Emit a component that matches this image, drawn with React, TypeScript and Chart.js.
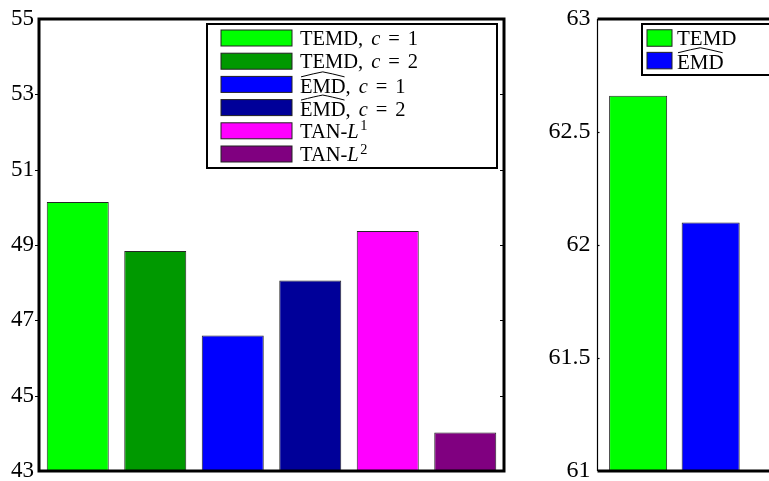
import React, { useEffect, useRef } from 'react';
import { Chart, registerables } from 'chart.js';

Chart.register(...registerables);

const FONT = '"Liberation Serif", "Times New Roman", serif';

// ---- Left panel data ----
const leftCategories = ['TEMD, c = 1', 'TEMD, c = 2', 'EMD^, c = 1', 'EMD^, c = 2', 'TAN-L1', 'TAN-L2'];
const leftValues = [50.14, 48.84, 46.6, 48.06, 49.37, 44.02];
const leftColors = ['#00ff00', '#009900', '#0000ff', '#000099', '#ff00ff', '#800080'];
const leftTicks = [43, 45, 47, 49, 51, 53, 55];

// ---- Right panel data (cut off at the right edge) ----
const rightCategories = ['TEMD', 'EMD^'];
const rightPositions = [1, 2];
const rightValues = [62.66, 62.1];
const rightColors = ['#00ff00', '#0000ff'];
const rightTicks = [61, 61.5, 62, 62.5, 63];

type Seg = { t: string; it?: boolean; sup?: boolean; hat?: boolean; dx?: number };

const leftLegend: Seg[][] = [
  [{ t: 'TEMD,' }, { t: 'c', it: true, dx: 8 }, { t: '=', dx: 8 }, { t: '1', dx: 8 }],
  [{ t: 'TEMD,' }, { t: 'c', it: true, dx: 8 }, { t: '=', dx: 8 }, { t: '2', dx: 8 }],
  [{ t: 'EMD', hat: true }, { t: ',' }, { t: 'c', it: true, dx: 8 }, { t: '=', dx: 8 }, { t: '1', dx: 8 }],
  [{ t: 'EMD', hat: true }, { t: ',' }, { t: 'c', it: true, dx: 8 }, { t: '=', dx: 8 }, { t: '2', dx: 8 }],
  [{ t: 'TAN-' }, { t: 'L', it: true }, { t: '1', sup: true, dx: 1.5 }],
  [{ t: 'TAN-' }, { t: 'L', it: true }, { t: '2', sup: true, dx: 1.5 }],
];
const rightLegend: Seg[][] = [[{ t: 'TEMD' }], [{ t: 'EMD', hat: true }]];

function drawRich(ctx: CanvasRenderingContext2D, segs: Seg[], x: number, y: number, size: number) {
  let cx = x;
  ctx.textAlign = 'left';
  ctx.textBaseline = 'alphabetic';
  ctx.fillStyle = '#000';
  for (const s of segs) {
    cx += s.dx || 0;
    const fs = s.sup ? size * 0.7 : size;
    ctx.font = `${s.it ? 'italic ' : ''}${fs}px ${FONT}`;
    const yy = s.sup ? y - size * 0.36 : y;
    ctx.fillText(s.t, cx, yy);
    const w = ctx.measureText(s.t).width;
    if (s.hat) {
      const cap = size * 0.66;
      ctx.save();
      ctx.strokeStyle = '#000';
      ctx.lineWidth = 1;
      ctx.beginPath();
      ctx.moveTo(cx + 1, y - cap - 2.5);
      ctx.quadraticCurveTo(cx + w * 0.32, y - cap - 6, cx + w / 2, y - cap - 7.5);
      ctx.quadraticCurveTo(cx + w * 0.68, y - cap - 6, cx + w - 1, y - cap - 2.5);
      ctx.stroke();
      ctx.restore();
    }
    cx += w;
  }
}

type LegendCfg = {
  items: Seg[][];
  colors: string[];
  offX: number; // from chart-area left
  offY: number; // from chart-area top
  boxW: number;
  boxH: number;
  swX: number;
  swW: number;
  swH: number;
  textX: number;
  rowStart: number;
  rowPitch: number;
  size: number;
};

function makePlugin(legend: LegendCfg, ticks: number[], full: boolean) {
  return {
    id: 'frameLegend',
    afterDatasetsDraw(chart: any) {
      const { ctx, chartArea: a } = chart;
      const ys = chart.scales.y;
      ctx.save();
      ctx.strokeStyle = '#000';
      // tick marks
      ctx.lineWidth = 1.2;
      ticks.forEach((v, i) => {
        if (i === 0 || i === ticks.length - 1) return;
        const y = Math.round(ys.getPixelForValue(v)) + 0.5;
        ctx.beginPath();
        if (full) {
          ctx.moveTo(a.left - 4, y);
          ctx.lineTo(a.left, y);
          ctx.moveTo(a.right - 4, y);
          ctx.lineTo(a.right, y);
        } else {
          ctx.moveTo(a.left, y);
          ctx.lineTo(a.left + 2, y);
        }
        ctx.stroke();
      });
      // frame
      if (full) {
        ctx.lineWidth = 3;
        ctx.strokeRect(a.left, a.top, a.right - a.left, a.bottom - a.top);
      } else {
        ctx.lineWidth = 3;
        ctx.beginPath();
        ctx.moveTo(a.left, a.top);
        ctx.lineTo(a.right, a.top);
        ctx.moveTo(a.left, a.bottom);
        ctx.lineTo(a.right, a.bottom);
        ctx.stroke();
        ctx.lineWidth = 1.2;
        ctx.beginPath();
        ctx.moveTo(a.left, a.top);
        ctx.lineTo(a.left, a.bottom);
        ctx.stroke();
      }
      // legend
      const bx = a.left + legend.offX;
      const by = a.top + legend.offY;
      ctx.fillStyle = '#fff';
      ctx.fillRect(bx, by, legend.boxW, legend.boxH);
      ctx.lineWidth = 2;
      ctx.strokeStyle = '#000';
      ctx.strokeRect(bx, by, legend.boxW, legend.boxH);
      legend.items.forEach((segs, i) => {
        const cy = by + legend.rowStart + i * legend.rowPitch;
        ctx.fillStyle = legend.colors[i];
        ctx.fillRect(bx + legend.swX, cy - legend.swH / 2, legend.swW, legend.swH);
        ctx.lineWidth = 1;
        ctx.strokeStyle = '#222';
        ctx.strokeRect(bx + legend.swX, cy - legend.swH / 2, legend.swW, legend.swH);
        const hasHat = segs.some((s) => s.hat);
        drawRich(ctx, segs, bx + legend.textX, cy + 7 + (hasHat ? 1.5 : 0), legend.size);
      });
      ctx.restore();
    },
  };
}

const tickFmt = (v: any) => String(v);

export default function App() {
  const leftRef = useRef<HTMLCanvasElement>(null);
  const rightRef = useRef<HTMLCanvasElement>(null);

  useEffect(() => {
    document.body.style.margin = '0';
    const left = new Chart(leftRef.current as HTMLCanvasElement, {
      type: 'bar',
      data: {
        labels: leftCategories,
        datasets: [
          {
            data: leftValues,
            backgroundColor: leftColors,
            borderColor: 'rgba(0,0,0,0.85)',
            borderWidth: 1,
            barPercentage: 0.8,
            categoryPercentage: 1,
          },
        ],
      },
      options: {
        animation: false,
        responsive: false,
        events: [],
        layout: { padding: { left: 0, top: 49, right: 16, bottom: 40 } },
        plugins: { legend: { display: false }, tooltip: { enabled: false } },
        scales: {
          x: { display: false, offset: true },
          y: {
            min: 43,
            max: 55,
            afterBuildTicks: (s: any) => {
              s.ticks = leftTicks.map((v) => ({ value: v }));
            },
            afterFit: (s: any) => {
              s.width = 39;
            },
            grid: { display: false, drawTicks: false },
            border: { display: false },
            ticks: { font: { family: FONT, size: 23 }, color: '#000', padding: 5, callback: tickFmt },
          },
        },
      },
      plugins: [
        makePlugin(
          {
            items: leftLegend,
            colors: leftColors,
            offX: 168,
            offY: 5,
            boxW: 290,
            boxH: 144,
            swX: 14,
            swW: 71,
            swH: 16,
            textX: 93,
            rowStart: 14,
            rowPitch: 23.2,
            size: 20.5,
          },
          leftTicks,
          true
        ),
      ],
    } as any);

    const right = new Chart(rightRef.current as HTMLCanvasElement, {
      type: 'bar',
      data: {
        labels: rightCategories,
        datasets: [
          {
            data: rightPositions.map((x, i) => ({ x, y: rightValues[i] })),
            backgroundColor: rightColors,
            borderColor: 'rgba(0,0,0,0.85)',
            borderWidth: 1,
            barPercentage: 0.8,
            categoryPercentage: 1,
          },
        ],
      },
      options: {
        animation: false,
        responsive: false,
        events: [],
        layout: { padding: { left: 0, top: 49, right: 0, bottom: 40 } },
        plugins: { legend: { display: false }, tooltip: { enabled: false } },
        scales: {
          x: {
            type: 'linear',
            display: false,
            offset: false,
            min: 0.44,
            max: 3.507,
            afterBuildTicks: (s: any) => {
              s.ticks = rightPositions.map((v) => ({ value: v }));
            },
          },
          y: {
            min: 61,
            max: 63,
            afterBuildTicks: (s: any) => {
              s.ticks = rightTicks.map((v) => ({ value: v }));
            },
            afterFit: (s: any) => {
              s.width = 77.5;
            },
            grid: { display: false, drawTicks: false },
            border: { display: false },
            ticks: { font: { family: FONT, size: 24 }, color: '#000', padding: 7, callback: tickFmt },
          },
        },
      },
      plugins: [
        makePlugin(
          {
            items: rightLegend,
            colors: rightColors,
            offX: 44.5,
            offY: 5,
            boxW: 200,
            boxH: 51,
            swX: 5,
            swW: 25,
            swH: 16.5,
            textX: 35,
            rowStart: 14,
            rowPitch: 22.6,
            size: 21,
          },
          rightTicks,
          false
        ),
      ],
    } as any);

    return () => {
      left.destroy();
      right.destroy();
    };
  }, []);

  return (
    <div
      style={{
        position: 'fixed',
        left: 0,
        top: 0,
        width: 769,
        height: 481,
        overflow: 'hidden',
        background: '#fff',
      }}
    >
      <canvas
        ref={leftRef}
        width={520}
        height={541}
        style={{ position: 'absolute', left: 0, top: -30, width: 520, height: 541 }}
      />
      <canvas
        ref={rightRef}
        width={300}
        height={541}
        style={{ position: 'absolute', left: 520, top: -30, width: 300, height: 541 }}
      />
    </div>
  );
}
